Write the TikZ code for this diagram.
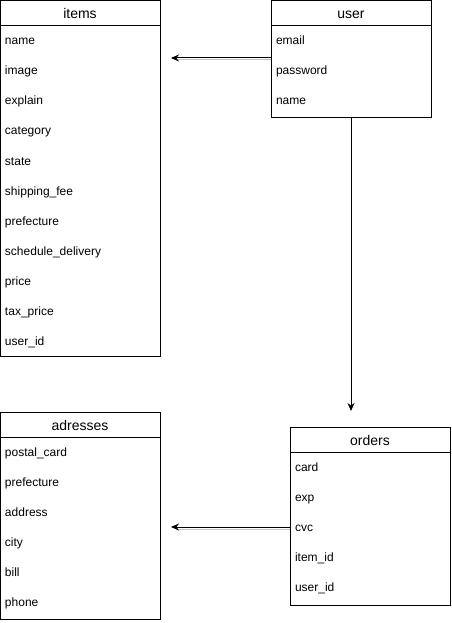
\documentclass[tikz,border=0pt]{standalone}
\usepackage{fontspec}
\setmainfont{Liberation Sans}
\usetikzlibrary{positioning,fit,calc,arrows.meta}

\begin{document}
\begin{tikzpicture}[x=1pt,y=-1pt,
    head/.style={draw,line width=1pt,minimum width=160pt,minimum height=25pt,
      inner sep=0pt,outer sep=0pt,text height=12pt,text depth=1pt,
      font=\fontsize{14}{16}\selectfont},
    fld/.style={minimum height=30pt,text width=150pt,inner xsep=5pt,inner ysep=0pt,
      outer sep=0pt,text height=10pt,text depth=2pt,align=left,
      font=\fontsize{12}{14}\selectfont},
    tbl/.style={draw,line width=1pt,inner sep=0pt,outer sep=0pt},
    rel/.style={line width=1pt,-{Stealth[length=8pt,width=7pt]}},
    shade/.style={gray!45,line width=1pt}]
  \useasboundingbox (0,0) rectangle (451,623);

  % items
  \node[head,anchor=north west] (items-h) at (0,1) {items};
  \foreach \f [count=\i, remember=\i as \j (initially h)] in
    {name,image,explain,category,state,shipping\_fee,prefecture,
     schedule\_delivery,price,tax\_price,user\_id}
    \node[fld,below=0pt of items-\j] (items-\i) {\f};
  \node[tbl,fit=(items-h)(items-11)] (items) {};

  % user
  \node[head,anchor=north west] (user-h) at (271,1) {user};
  \foreach \f [count=\i, remember=\i as \j (initially h)] in {email,password,name}
    \node[fld,below=0pt of user-\j] (user-\i) {\f};
  \node[tbl,fit=(user-h)(user-3),inner ysep=1pt,yshift=-1pt] (user) {};

  % adresses
  \node[head,anchor=north west] (adresses-h) at (0,412) {adresses};
  \foreach \f [count=\i, remember=\i as \j (initially h)] in
    {postal\_card,prefecture,address,city,bill,phone}
    \node[fld,below=0pt of adresses-\j] (adresses-\i) {\f};
  \node[tbl,fit=(adresses-h)(adresses-6),inner ysep=1pt,yshift=-1pt] (adresses) {};

  % orders
  \node[head,anchor=north west] (orders-h) at (290,427) {orders};
  \foreach \f [count=\i, remember=\i as \j (initially h)] in
    {card,exp,cvc,item\_id,user\_id}
    \node[fld,below=0pt of orders-\j] (orders-\i) {\f};
  \node[tbl,fit=(orders-h)(orders-5),inner ysep=1.5pt,yshift=-1.5pt] (orders) {};

  % relations
  \coordinate (u-l) at ([yshift=-57pt]user.north west);
  \coordinate (i-r) at ($(items.east |- u-l)+(11,0)$);
  \draw[shade] ($(u-l)+(0,2)$) -- ($(i-r)+(7,2)$);
  \draw[rel] (u-l) -- (i-r);

  \coordinate (o-l) at (orders-3.west);
  \coordinate (a-r) at ($(adresses.east |- o-l)+(11,0)$);
  \draw[shade] ($(o-l)+(0,2)$) -- ($(a-r)+(7,2)$);
  \draw[rel] (o-l) -- (a-r);

  \draw[rel] (user.south) -- ($(user.south |- orders.north)+(0,-16)$);
\end{tikzpicture}
\end{document}
